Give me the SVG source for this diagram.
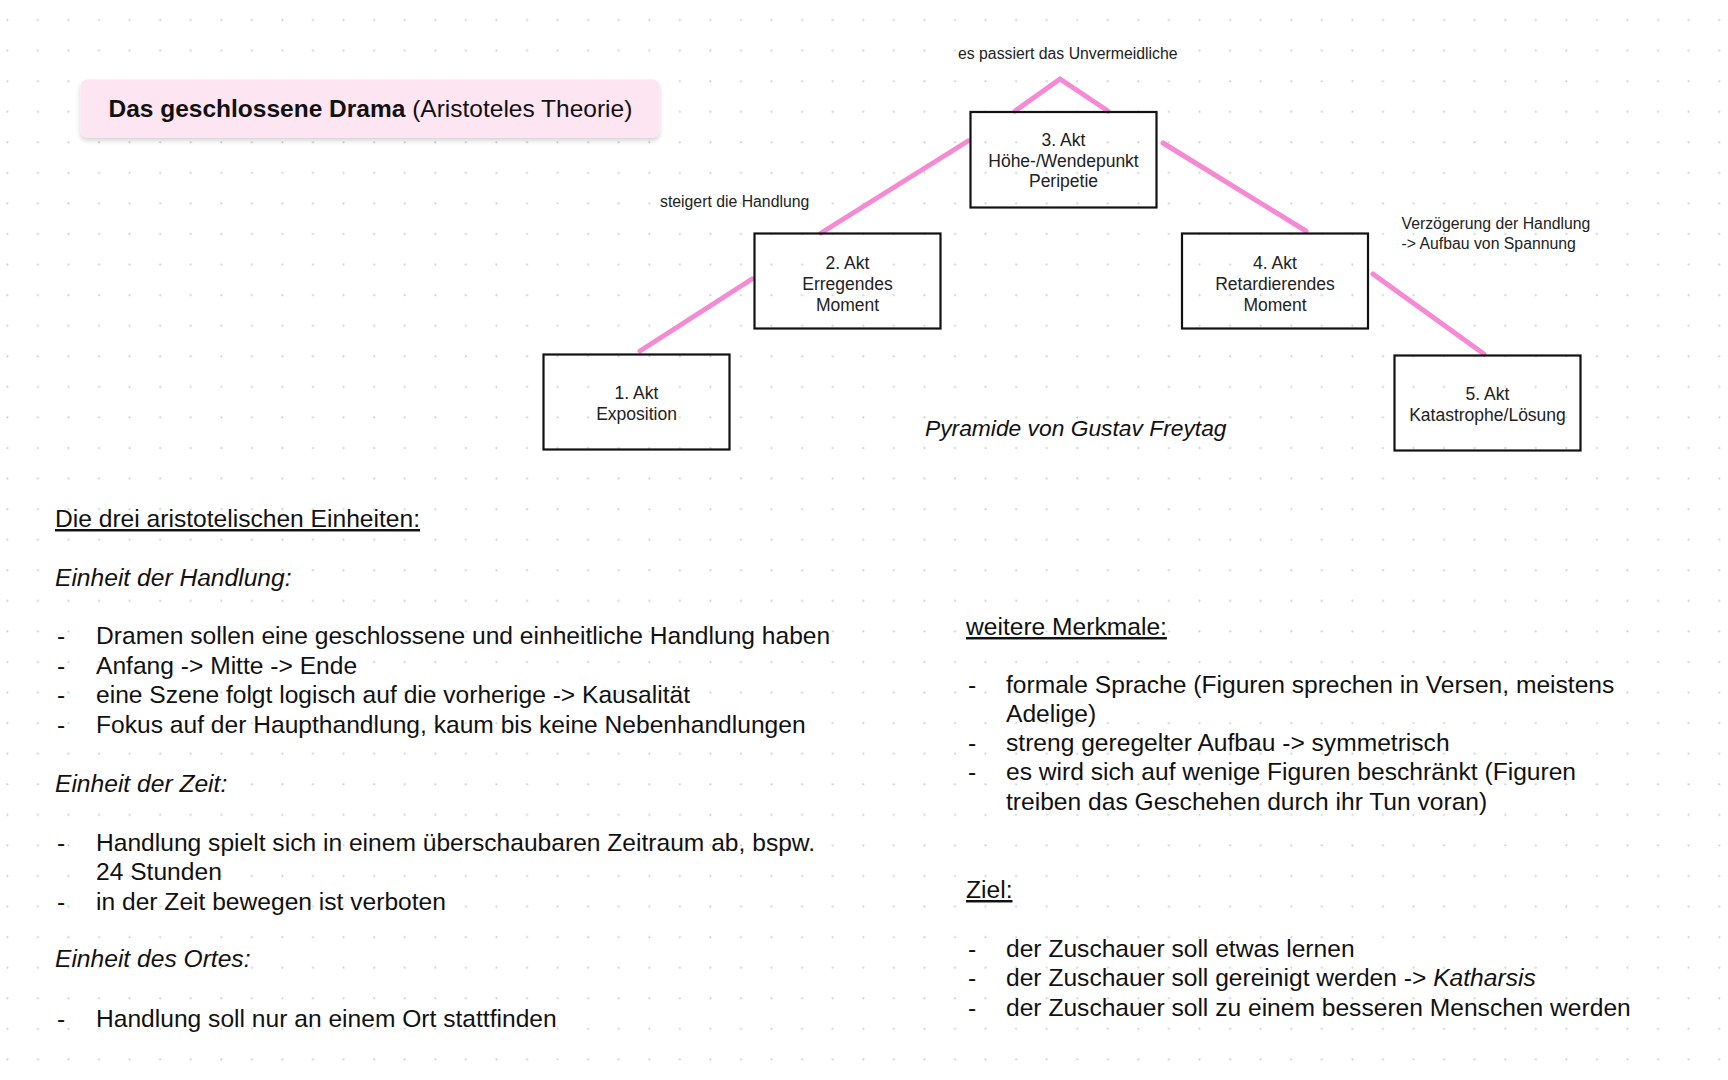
<svg xmlns="http://www.w3.org/2000/svg" width="1728" height="1080" viewBox="0 0 1728 1080">
<defs>
<pattern id="dots" patternUnits="userSpaceOnUse" x="0" y="0" width="30.57" height="30.57">
<circle cx="7.3" cy="20" r="1.1" fill="#cdcdcd"/>
</pattern>
<filter id="sh" x="-5%" y="-20%" width="110%" height="150%">
<feDropShadow dx="0" dy="3" stdDeviation="2.5" flood-color="#000" flood-opacity="0.18"/>
</filter>
</defs>
<style>
.t{font-family:"Liberation Sans",Arial,Helvetica,sans-serif;fill:#111}
.box{fill:none;stroke:#111;stroke-width:2.2}
.bt{font-size:17.5px;text-anchor:middle;fill:#222}
.lbl{font-size:15.8px;fill:#222}
.body{font-size:24.6px}
.it{font-style:italic}
.ul{text-decoration:underline}
.pk{stroke:#f589d3;stroke-width:5;stroke-linecap:round;fill:none}
</style>
<rect width="1728" height="1080" fill="#fff"/>
<rect width="1728" height="1080" fill="url(#dots)"/>

<g id="title">
<rect x="80.5" y="79.5" width="579" height="58" rx="7" fill="#fde5f1" filter="url(#sh)"/>
<text class="t" x="108.5" y="116.5" font-size="24.5"><tspan font-weight="bold">Das geschlossene Drama</tspan> (Aristoteles Theorie)</text>
</g>

<g id="connectors">
<polyline class="pk" points="1015,111 1060,79 1108,111"/>
<line class="pk" x1="640" y1="351" x2="752" y2="279"/>
<line class="pk" x1="821" y1="233" x2="968" y2="141"/>
<line class="pk" x1="1163" y1="143" x2="1306" y2="231"/>
<line class="pk" x1="1373" y1="274" x2="1484" y2="354"/>
</g>

<g id="akt1">
<rect class="box" x="543.5" y="354.5" width="186" height="95"/>
<text class="t bt" x="636.5" y="399">1. Akt</text>
<text class="t bt" x="636.5" y="420">Exposition</text>
</g>
<g id="akt2">
<rect class="box" x="754.5" y="233.5" width="186" height="95"/>
<text class="t bt" x="847.5" y="268.5">2. Akt</text>
<text class="t bt" x="847.5" y="289.5">Erregendes</text>
<text class="t bt" x="847.5" y="310.5">Moment</text>
</g>
<g id="akt3">
<rect class="box" x="970.5" y="112" width="186" height="95.5"/>
<text class="t bt" x="1063.5" y="145.5">3. Akt</text>
<text class="t bt" x="1063.5" y="166.5">Höhe-/Wendepunkt</text>
<text class="t bt" x="1063.5" y="187">Peripetie</text>
</g>
<g id="akt4">
<rect class="box" x="1182" y="233.5" width="186" height="95"/>
<text class="t bt" x="1275" y="268.5">4. Akt</text>
<text class="t bt" x="1275" y="289.5">Retardierendes</text>
<text class="t bt" x="1275" y="310.5">Moment</text>
</g>
<g id="akt5">
<rect class="box" x="1394.5" y="355.5" width="186" height="95"/>
<text class="t bt" x="1487.5" y="400">5. Akt</text>
<text class="t bt" x="1487.5" y="421">Katastrophe/Lösung</text>
</g>

<g id="labels">
<text class="t lbl" x="958" y="58.5">es passiert das Unvermeidliche</text>
<text class="t lbl" x="660" y="207">steigert die Handlung</text>
<text class="t lbl" x="1401.5" y="228.5">Verzögerung der Handlung</text>
<text class="t lbl" x="1401.5" y="248.5">-&gt; Aufbau von Spannung</text>
<text class="t it" x="925" y="436" font-size="22.8">Pyramide von Gustav Freytag</text>
</g>

<g id="left-text">
<text class="t body ul" x="55" y="527">Die drei aristotelischen Einheiten:</text>
<text class="t body it" x="55" y="586">Einheit der Handlung:</text>
<text class="t body" x="57" y="644">-</text><text class="t body" x="96" y="644">Dramen sollen eine geschlossene und einheitliche Handlung haben</text>
<text class="t body" x="57" y="674">-</text><text class="t body" x="96" y="674">Anfang -&gt; Mitte -&gt; Ende</text>
<text class="t body" x="57" y="703">-</text><text class="t body" x="96" y="703">eine Szene folgt logisch auf die vorherige -&gt; Kausalität</text>
<text class="t body" x="57" y="733">-</text><text class="t body" x="96" y="733">Fokus auf der Haupthandlung, kaum bis keine Nebenhandlungen</text>
<text class="t body it" x="55" y="792">Einheit der Zeit:</text>
<text class="t body" x="57" y="851">-</text><text class="t body" x="96" y="851">Handlung spielt sich in einem überschaubaren Zeitraum ab, bspw.</text>
<text class="t body" x="96" y="880">24 Stunden</text>
<text class="t body" x="57" y="910">-</text><text class="t body" x="96" y="910">in der Zeit bewegen ist verboten</text>
<text class="t body it" x="55" y="967">Einheit des Ortes:</text>
<text class="t body" x="57" y="1027">-</text><text class="t body" x="96" y="1027">Handlung soll nur an einem Ort stattfinden</text>
</g>

<g id="right-text">
<text class="t body ul" x="966" y="635">weitere Merkmale:</text>
<text class="t body" x="968" y="693">-</text><text class="t body" x="1006" y="693">formale Sprache (Figuren sprechen in Versen, meistens</text>
<text class="t body" x="1006" y="722">Adelige)</text>
<text class="t body" x="968" y="751">-</text><text class="t body" x="1006" y="751">streng geregelter Aufbau -&gt; symmetrisch</text>
<text class="t body" x="968" y="780">-</text><text class="t body" x="1006" y="780">es wird sich auf wenige Figuren beschränkt (Figuren</text>
<text class="t body" x="1006" y="810">treiben das Geschehen durch ihr Tun voran)</text>
<text class="t body ul" x="966" y="898">Ziel:</text>
<text class="t body" x="968" y="957">-</text><text class="t body" x="1006" y="957">der Zuschauer soll etwas lernen</text>
<text class="t body" x="968" y="986">-</text><text class="t body" x="1006" y="986">der Zuschauer soll gereinigt werden -&gt; <tspan font-style="italic">Katharsis</tspan></text>
<text class="t body" x="968" y="1016">-</text><text class="t body" x="1006" y="1016">der Zuschauer soll zu einem besseren Menschen werden</text>
</g>
</svg>
